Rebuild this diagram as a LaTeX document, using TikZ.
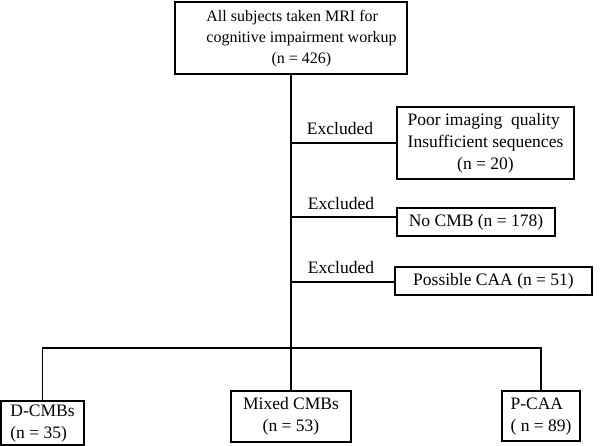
\documentclass[tikz,border=0pt]{standalone}
\usepackage{fontspec}
\setmainfont{Liberation Serif}
\newcommand\diafont{\fontsize{17.5}{22}\selectfont}
\newcommand\topfont{\fontsize{16}{21}\selectfont}
\begin{document}
\begin{tikzpicture}[x=1pt,y=-1pt,
  box/.style={draw, line width=1.2pt, inner sep=0pt, align=center, font=\diafont},
  lbl/.style={inner sep=0pt, font=\diafont},
  conn/.style={line width=1.2pt}]
\useasboundingbox (0,0) rectangle (600,446);
% boxes
\node[box, font=\topfont, minimum width=232pt, minimum height=72pt] (top) at (291,38)
  {\hspace*{21pt}\begin{tabular}{@{}l@{}}All subjects taken MRI for\\ cognitive impairment workup\\ \multicolumn{1}{@{}c@{}}{(n = 426)}\end{tabular}};
\node[box, minimum width=177pt, minimum height=72pt] (b1) at (485.5,143)
  {\begin{tabular}{@{}l@{}}Poor imaging\ \ quality\\ Insufficient sequences\\ \multicolumn{1}{@{}c@{}}{(n = 20)}\end{tabular}};
\node[box, minimum width=158pt, minimum height=28pt] (b2) at (476,222) {No CMB (n = 178)};
\node[box, minimum width=197pt, minimum height=28pt] (b3) at (493.5,281) {Possible CAA (n = 51)};
\node[box, minimum width=83pt, minimum height=42pt] (d) at (42.5,423)
  {\begin{tabular}{@{}l@{}}D-CMBs\\ (n = 35)\end{tabular}};
\node[box, minimum width=120pt, minimum height=51pt] (m) at (291,416.5)
  {\begin{tabular}{@{}c@{}}Mixed CMBs\\ (n = 53)\end{tabular}};
\node[box, minimum width=78pt, minimum height=50pt] (p) at (541,416)
  {\begin{tabular}{@{}l@{}}P-CAA\\ ( n = 89)\end{tabular}};
% labels
\node[lbl] (e1) at (340,129) {Excluded};
\node[lbl] (e2) at (341,204) {Excluded};
\node[lbl] (e3) at (341,268) {Excluded};
% connectors
\coordinate (j1) at (291,143);
\coordinate (j2) at (291,217);
\coordinate (j3) at (291,282);
\coordinate (hb) at (291,348);
\draw[conn] (top.south) -- (m.north);
\draw[conn] (j1) -- (j1 -| b1.west);
\draw[conn] (j2) -- (j2 -| b2.west);
\draw[conn] (j3) -- (j3 -| b3.west);
\draw[conn] (d.north) |- (hb) -| (p.north);
\end{tikzpicture}
\end{document}
